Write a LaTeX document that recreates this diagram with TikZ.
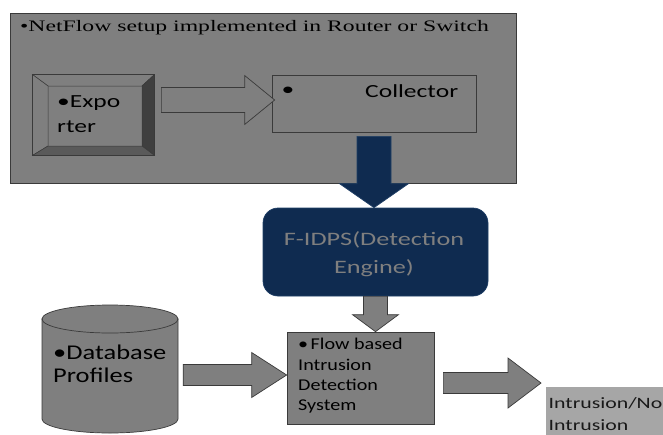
\documentclass[tikz,border=0pt]{standalone}
\usepackage{fontspec}
\usetikzlibrary{calc}
\newfontfamily\calib[FakeStretch=1.38]{Carlito}
\newfontfamily\calibn[FakeStretch=1.22]{Carlito}
\newfontfamily\calibd[FakeStretch=1.26]{Carlito}
\newfontfamily\tms[FakeStretch=1.48]{Liberation Serif}
\definecolor{mgray}{HTML}{7F7F7F}
\definecolor{dgray}{HTML}{3A3A3A}
\definecolor{bevR}{HTML}{3F3F3F}
\definecolor{bevB}{HTML}{5A5A5A}
\definecolor{navy}{HTML}{0F2B50}
\definecolor{navyb}{HTML}{1F3F66}
\definecolor{lgray}{HTML}{A6A6A6}
\newcommand\hblock[6]{%
  \draw[#1] ($(#2)+(0,-#4)$) -- ($(#3)+(-#6,-#4)$) -- ($(#3)+(-#6,-#5)$) -- (#3)
   -- ($(#3)+(-#6,#5)$) -- ($(#3)+(-#6,#4)$) -- ($(#2)+(0,#4)$) -- cycle;}
\newcommand\vblock[6]{%
  \draw[#1] ($(#2)+(-#4,0)$) -- ($(#3)+(-#4,-#6)$) -- ($(#3)+(-#5,-#6)$) -- (#3)
   -- ($(#3)+(#5,-#6)$) -- ($(#3)+(#4,-#6)$) -- ($(#2)+(#4,0)$) -- cycle;}
\tikzset{
  graybox/.style={draw=dgray, fill=mgray, line width=0.7pt, inner sep=0pt},
  grayarrow/.style={draw=dgray, fill=mgray, line width=0.7pt, line join=miter},
  navyarrow/.style={draw=navyb, fill=navy, line width=0.7pt},
  caltext/.style={font=\calib\fontsize{18.5}{25}\selectfont, inner sep=0pt, align=left},
}
\begin{document}
\begin{tikzpicture}[x=1pt,y=-1pt]
\useasboundingbox[fill=white] (0,0) rectangle (663,434);
% outer NetFlow box
\node[graybox, minimum width=506, minimum height=170] (outer) at (263,98) {};
\node[font=\tms\fontsize{16}{19}\selectfont, inner sep=0pt, anchor=west] (title) at (20,28) {•NetFlow setup implemented in Router or Switch};
% exporter (bevel)
\node[graybox, minimum width=121, minimum height=80] (exp) at (93.5,115) {};
\draw[dgray, fill=mgray, line width=0.5pt] (exp.north west) -- (exp.north east) -- (142,86) -- (48,86) -- cycle;
\draw[dgray, fill=mgray, line width=0.5pt] (exp.north west) -- (48,86) -- (48,146) -- (exp.south west) -- cycle;
\draw[dgray, fill=bevR, line width=0.5pt] (exp.north east) -- (exp.south east) -- (142,146) -- (142,86) -- cycle;
\draw[dgray, fill=bevB, line width=0.5pt] (exp.south west) -- (exp.south east) -- (142,146) -- (48,146) -- cycle;
\draw[dgray, line width=0.7pt] (exp.north west) rectangle (exp.south east);
\node[caltext, anchor=west] (exptext) at (57,114.5) {•Expo\\rter};
% collector
\node[graybox, minimum width=204, minimum height=57] (col) at (374,103.5) {};
\node[caltext, anchor=center] (colbul) at (288,91) {•};
\node[caltext, anchor=west] (coltext) at (365,91) {Collector};
% F-IDPS
\node[fill=navy, draw=navyb, line width=0.7pt, rounded corners=15, minimum width=225, minimum height=88, inner sep=0pt] (fidps) at (375.5,252) {};
\node[font=\calib\fontsize{19}{28}\selectfont, text=mgray, align=center, inner sep=0pt] (fidpstext) at (374,254) {F-IDPS(Detection\\Engine)};
% flow based IDS
\node[graybox, minimum width=147, minimum height=92] (flow) at (360.5,378) {};
\node[font=\calibn\fontsize{16.5}{20.3}\selectfont, align=left, inner sep=0pt, anchor=west] (flowtext) at (298,376) {•\hspace{2.5pt}Flow based\\Intrusion\\Detection\\System};
% database cylinder
\node[minimum width=136, minimum height=128, inner sep=0pt] (db) at (110,369) {};
\draw[dgray, fill=mgray, line width=0.7pt] (42,319) -- (42,419) arc[start angle=180, end angle=0, x radius=68, y radius=14] -- (178,319) -- cycle;
\draw[dgray, fill=mgray, line width=0.7pt] (110,319) ellipse[x radius=68, y radius=14];
\node[font=\calibd\fontsize{21}{23}\selectfont, align=left, inner sep=0pt, anchor=west] (dbtext) at (53,363.5) {•Database\\Profiles};
% result
\node[fill=lgray, minimum width=130, minimum height=60, inner sep=0pt, anchor=north west] (res) at (546,387) {};
\node[font=\calib\fontsize{15.8}{22}\selectfont, align=left, inner sep=0pt, anchor=west, text=black!90] (restext) at (548.5,414) {Intrusion/No\\Intrusion};
% connectors
\coordinate (a1s) at ($(exp.east)+(7,-15)$);
\coordinate (a1t) at ($(col.west)+(3,-3.5)$);
\hblock{grayarrow}{a1s}{a1t}{12.5}{24.5}{30}
\coordinate (a2s) at ($(col.south)+(0,4)$);
\coordinate (a2t) at (col.south |- fidps.north);
\vblock{navyarrow}{a2s}{a2t}{17}{34.5}{24}
\coordinate (a3s) at (fidps.south);
\coordinate (a3t) at (fidps.south |- flow.north);
\vblock{grayarrow}{a3s}{a3t}{12}{23}{17}
\coordinate (a4t) at ($(flow.west)+(0,-3)$);
\coordinate (a4s) at ($(db.east |- a4t)+(5,0)$);
\hblock{grayarrow}{a4s}{a4t}{10.5}{22.5}{35}
\coordinate (a5s) at ($(flow.east)+(9,5)$);
\coordinate (a5t) at ($(res.west |- a5s)+(-5,0)$);
\hblock{grayarrow}{a5s}{a5t}{10.5}{25}{33}
\end{tikzpicture}
\end{document}
